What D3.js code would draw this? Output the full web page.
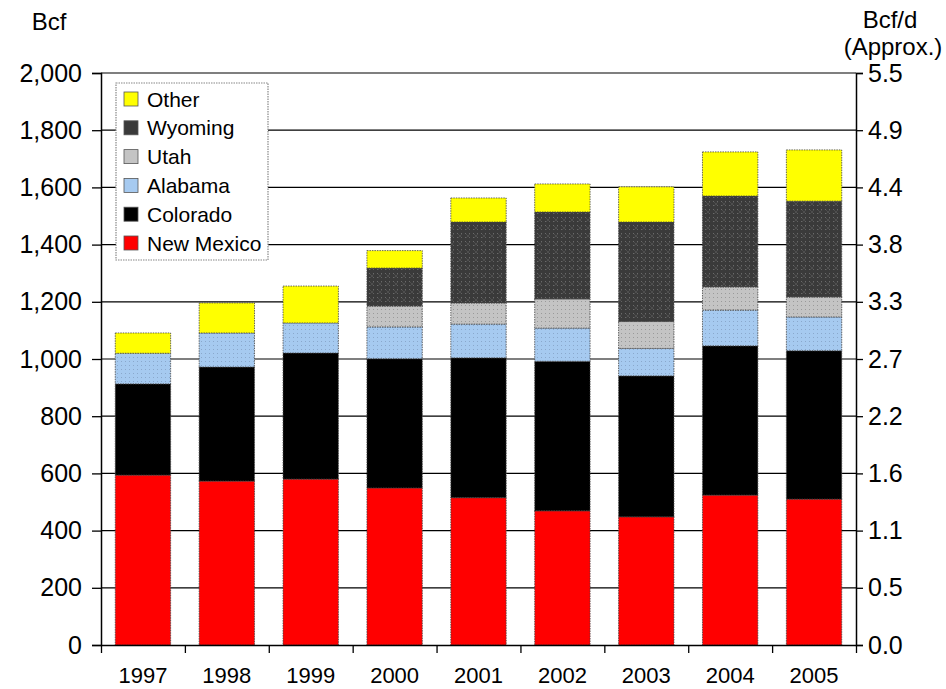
<!DOCTYPE html>
<html>
<head>
<meta charset="utf-8">
<script src="https://cdn.jsdelivr.net/npm/d3@7"></script>
<style>
  body { margin: 0; background: #fff; }
  svg text { font-family: "Liberation Sans", Arial, sans-serif; fill: #000; }
</style>
</head>
<body>
<svg width="946" height="689"></svg>
<script>
// Categories and series (Bcf)
const years = ["1997", "1998", "1999", "2000", "2001", "2002", "2003", "2004", "2005"];
const newMexico = [594, 573, 580, 549, 515, 469, 448, 524, 510];
const colorado  = [319, 399, 441, 452, 489, 523, 493, 522, 519];
const alabama   = [107, 119, 105, 111, 118, 116, 96, 125, 118];
const utah      = [0, 0, 0, 73, 74, 102, 94, 81, 70];
const wyoming   = [0, 0, 0, 133, 283, 304, 348, 318, 335];
const other     = [71, 105, 129, 61, 84, 98, 123, 154, 179];

const leftTicks = [0, 200, 400, 600, 800, 1000, 1200, 1400, 1600, 1800, 2000];
const rightTickLabels = ["0.0", "0.5", "1.1", "1.6", "2.2", "2.7", "3.3", "3.8", "4.4", "4.9", "5.5"];

const keys = ["New Mexico", "Colorado", "Alabama", "Utah", "Wyoming", "Other"];
const seriesValues = [newMexico, colorado, alabama, utah, wyoming, other];

const table = years.map((yr, i) => {
  const row = { year: yr };
  keys.forEach((k, j) => (row[k] = seriesValues[j][i]));
  return row;
});

const svg = d3.select("svg");
const plotLeft = 101, plotRight = 856, plotTop = 73, plotBottom = 645;

// Patterns for the textured fills
const defs = svg.append("defs");
function dotPattern(id, bg, dot, cross) {
  const p = defs.append("pattern")
    .attr("id", id)
    .attr("patternUnits", "userSpaceOnUse")
    .attr("width", 8)
    .attr("height", 8);
  p.append("rect").attr("width", 8).attr("height", 8).attr("fill", bg);
  [[1, 1], [5, 1], [1, 5], [5, 5]].forEach(([a, b]) =>
    p.append("rect").attr("x", a).attr("y", b).attr("width", 1).attr("height", 1).attr("fill", dot));
  if (cross) {
    p.append("path")
      .attr("d", "M2,2L6,6M6,2L2,6")
      .attr("stroke", cross)
      .attr("stroke-width", 0.6);
  }
}
dotPattern("pat-ala", "#a6caf0", "#8aa8cc");
dotPattern("pat-utah", "#c4c4c4", "#9a9a9a");
dotPattern("pat-wyo", "#3a3a3a", "#6a6a6a", "#5c5c5c");

const fills = {
  "New Mexico": "#ff0000",
  "Colorado": "#000000",
  "Alabama": "url(#pat-ala)",
  "Utah": "url(#pat-utah)",
  "Wyoming": "url(#pat-wyo)",
  "Other": "#ffff00",
};
const legendFills = {
  "New Mexico": "#ff0000",
  "Colorado": "#000000",
  "Alabama": "#a6caf0",
  "Utah": "#c4c4c4",
  "Wyoming": "#3a3a3a",
  "Other": "#ffff00",
};

// Scales
const x = d3.scaleBand()
  .domain(years)
  .range([plotLeft, plotRight])
  .paddingInner(0.34)
  .paddingOuter(0.17);

const boundaries = d3.scaleLinear().domain([0, years.length]).range([plotLeft, plotRight]);

const y = d3.scaleLinear().domain([0, 2000]).range([plotBottom, plotTop]);

// Gridlines
svg.append("g")
  .selectAll("line")
  .data(leftTicks.slice(1))
  .join("line")
  .attr("x1", plotLeft)
  .attr("x2", plotRight)
  .attr("y1", (d) => y(d))
  .attr("y2", (d) => y(d))
  .attr("stroke", "#000")
  .attr("stroke-width", 1.2);

// Stacked bars
const stacked = d3.stack().keys(keys)(table);

svg.append("g")
  .selectAll("g")
  .data(stacked)
  .join("g")
  .attr("fill", (d) => fills[d.key])
  .selectAll("rect")
  .data((d) => d.filter((s) => s[1] - s[0] > 0))
  .join("rect")
  .attr("x", (d) => x(d.data.year))
  .attr("y", (d) => y(d[1]))
  .attr("width", x.bandwidth())
  .attr("height", (d) => y(d[0]) - y(d[1]))
  .attr("stroke", "#444")
  .attr("stroke-width", 0.8)
  .attr("stroke-dasharray", "1.5,1");

// Left axis
const yAxisL = svg.append("g")
  .attr("transform", `translate(${plotLeft},0)`)
  .call(d3.axisLeft(y).tickValues(leftTicks).tickFormat(d3.format(",")).tickSize(9).tickPadding(10));
yAxisL.select(".domain").attr("stroke", "#000").attr("stroke-width", 1.5);
yAxisL.selectAll(".tick line").attr("stroke-width", 1.3);
yAxisL.selectAll("text").style("font-size", "25px").attr("fill", "#000");

// Right axis
const yAxisR = svg.append("g")
  .attr("transform", `translate(${plotRight},0)`)
  .call(d3.axisRight(y).tickValues(leftTicks).tickFormat((d, i) => rightTickLabels[i]).tickSize(7).tickPadding(5));
yAxisR.select(".domain").attr("stroke", "#000").attr("stroke-width", 1.5);
yAxisR.selectAll(".tick line").attr("stroke-width", 1.3);
yAxisR.selectAll("text").style("font-size", "25px").attr("fill", "#000");

// Bottom axis: ticks at category boundaries, labels at centres
const xTicks = svg.append("g")
  .attr("transform", `translate(0,${plotBottom})`)
  .call(d3.axisBottom(boundaries).tickValues(d3.range(years.length + 1)).tickFormat("").tickSize(8).tickSizeOuter(0));
xTicks.select(".domain").attr("stroke", "#000").attr("stroke-width", 1.5);
xTicks.selectAll(".tick line").attr("stroke-width", 1.3);

const xLabels = svg.append("g")
  .attr("transform", `translate(0,${plotBottom})`)
  .call(d3.axisBottom(x).tickSize(0).tickPadding(22));
xLabels.select(".domain").remove();
xLabels.selectAll("text").style("font-size", "22px").attr("fill", "#000");

// Axis titles
svg.append("text").attr("x", 49).attr("y", 30).attr("text-anchor", "middle")
  .style("font-size", "24px").text("Bcf");
svg.append("text").attr("x", 890).attr("y", 28).attr("text-anchor", "middle")
  .style("font-size", "24px").text("Bcf/d");
svg.append("text").attr("x", 893).attr("y", 55).attr("text-anchor", "middle")
  .style("font-size", "24px").text("(Approx.)");

// Legend
const legendItems = keys.slice().reverse();
const legend = svg.append("g").attr("transform", "translate(116,83)");
legend.append("rect")
  .attr("width", 152)
  .attr("height", 177)
  .attr("fill", "#fff")
  .attr("stroke", "#888")
  .attr("stroke-width", 1.2)
  .attr("stroke-dasharray", "1.5,1");

const entries = legend.selectAll("g.entry")
  .data(legendItems)
  .join("g")
  .attr("class", "entry")
  .attr("transform", (d, i) => `translate(8,${16 + i * 28.8})`);

entries.append("rect")
  .attr("x", 0)
  .attr("y", -7)
  .attr("width", 14)
  .attr("height", 14)
  .attr("fill", (d) => legendFills[d])
  .attr("stroke", "#555")
  .attr("stroke-width", 0.8);

entries.append("text")
  .attr("x", 23)
  .attr("y", 7.5)
  .style("font-size", "21px")
  .text((d) => d);
</script>
</body>
</html>
